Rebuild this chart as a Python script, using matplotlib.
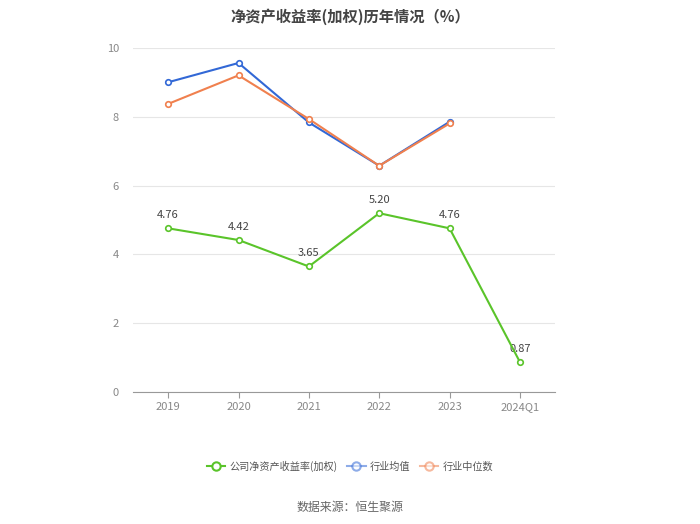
import matplotlib
matplotlib.use("Agg")
import matplotlib.pyplot as plt
from matplotlib.lines import Line2D

plt.rcParams["font.family"] = ["Noto Sans CJK SC", "DejaVu Sans"]

years = ["2019", "2020", "2021", "2022", "2023", "2024Q1"]
company = [4.76, 4.42, 3.65, 5.20, 4.76, 0.87]
industry_avg = [9.01, 9.57, 7.84, 6.58, 7.86]
industry_median = [8.38, 9.21, 7.94, 6.58, 7.81]

green = "#5ac42a"
blue = "#3268d6"
orange = "#f0804e"

fig = plt.figure(figsize=(7, 5.24), dpi=100)
ax = fig.add_axes([0.19, 0.252, 0.603, 0.656])

x = list(range(len(years)))
ax.plot(x[:5], industry_avg, color=blue, lw=1.5, marker="o", ms=4,
        mfc="white", mew=1.2, zorder=3)
ax.plot(x[:5], industry_median, color=orange, lw=1.5, marker="o", ms=4,
        mfc="white", mew=1.2, zorder=3)
ax.plot(x, company, color=green, lw=1.5, marker="o", ms=4,
        mfc="white", mew=1.2, zorder=4)

for xi, v in zip(x, company):
    ax.annotate(f"{v:.2f}", (xi, v), xytext=(0, 6), textcoords="offset points",
                ha="center", va="bottom", fontsize=8, color="#444444")

ax.set_xlim(-0.5, len(years) - 0.5)
ax.set_ylim(0, 10)
ax.set_xticks(x)
ax.set_xticklabels(years)
ax.set_yticks([0, 2, 4, 6, 8, 10])
ax.grid(axis="y", color="#e6e6e6", lw=0.8)
ax.set_axisbelow(True)
for side in ["top", "right", "left"]:
    ax.spines[side].set_visible(False)
ax.spines["bottom"].set_color("#999999")
ax.tick_params(axis="x", colors="#999999", labelcolor="#888888", labelsize=8,
               length=4, direction="out")
ax.tick_params(axis="y", length=0, labelcolor="#888888", labelsize=8, pad=10)

fig.suptitle("净资产收益率(加权)历年情况（%）", x=0.5, y=0.985,
             fontsize=11, fontweight="bold", color="#444444")

# legend: industry entries are drawn faded, as in the original
handles = [
    Line2D([], [], color=green, lw=1.5, marker="o", ms=6, mfc="white", mew=1.5),
    Line2D([], [], color=blue, lw=1.5, marker="o", ms=6, mfc="white", mew=1.5, alpha=0.55),
    Line2D([], [], color=orange, lw=1.5, marker="o", ms=6, mfc="white", mew=1.5, alpha=0.55),
]
labels = ["公司净资产收益率(加权)", "行业均值", "行业中位数"]
fig.legend(handles, labels,
           loc="center", bbox_to_anchor=(0.5, 0.11), ncol=3, frameon=False,
           fontsize=7.3, labelcolor="#555555", handlelength=1.8,
           columnspacing=1.0, handletextpad=0.4)

fig.text(0.5, 0.032, "数据来源：恒生聚源", ha="center", va="center",
         fontsize=8.6, color="#666666")

fig.savefig("out.png", dpi=100)
plt.close(fig)
